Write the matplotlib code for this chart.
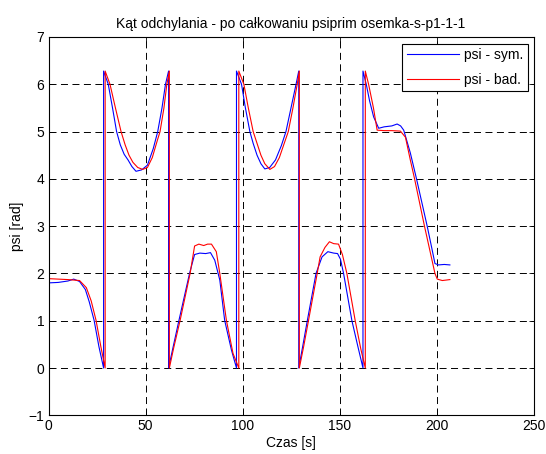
import matplotlib
matplotlib.use("Agg")
import matplotlib.pyplot as plt

plt.rcParams['font.family'] = ['Liberation Sans', 'DejaVu Sans']

# simulated heading (wrapped to [0, 2*pi])
t_sym = [0, 5, 10, 13, 16, 19, 21, 23.5, 26, 28.4,
         28.4, 30.8, 33, 35.1, 37, 39, 41, 43, 45.1, 48, 51, 54, 56.3, 58.5, 60.3, 61.9,
         61.9, 64, 67.2, 72.7, 75.3, 78, 81, 83.5, 85.7, 88.3, 90.8, 94.3, 96.9,
         96.9, 99.5, 101.5, 103.8, 105.5, 107.5, 109.5, 111.5, 114, 117, 120, 122.4, 125, 127.6, 129.0,
         129.0, 131, 133.4, 137.9, 141, 144, 147, 149, 150.5, 152.1, 156.4, 159.5, 162.1,
         162.1, 163.8, 165.5, 167.6, 170.2, 173, 177, 179.7, 181.5, 183.1, 186.5, 189.7,
         195.2, 197.5, 199.2, 201, 204, 206.9]
psi_sym = [1.80, 1.81, 1.84, 1.88, 1.83, 1.66, 1.40, 1.01, 0.45, 0.0,
           6.28, 6.0, 5.5, 5.0, 4.72, 4.52, 4.40, 4.26, 4.16, 4.19, 4.29, 4.64, 5.0, 5.5, 6.0, 6.28,
           0.0, 0.4, 1.0, 2.0, 2.40, 2.43, 2.42, 2.44, 2.28, 1.86, 1.01, 0.38, 0.0,
           6.28, 6.0, 5.5, 5.0, 4.75, 4.5, 4.32, 4.21, 4.24, 4.4, 4.7, 5.0, 5.5, 6.0, 6.28,
           0.0, 0.45, 1.0, 2.0, 2.35, 2.46, 2.43, 2.42, 2.3, 2.0, 1.0, 0.45, 0.0,
           6.28, 6.0, 5.65, 5.31, 5.07, 5.10, 5.12, 5.16, 5.12, 5.03, 4.55, 4.0,
           3.0, 2.55, 2.21, 2.18, 2.19, 2.18]

# measured heading
t_bad = [0, 5, 10, 13, 16, 19.5, 22, 24.5, 27, 29.2,
         29.2, 31.7, 34.5, 37.4, 39.5, 41.5, 43.5, 46, 48.6, 51, 53.5, 56, 57.5, 59.5, 61.0, 62.3,
         62.3, 64.5, 67.8, 73, 75.3, 77.5, 80, 82, 84, 86.5, 88.3, 91.7, 95.1, 98.1,
         98.1, 100.7, 103, 105.5, 107.5, 109.5, 111.5, 114.1, 116.5, 119, 121.5, 123.6, 126, 128.2, 129.3,
         129.3, 131.5, 134, 138.5, 140, 142.5, 144.8, 147, 149.5, 151.5, 153.8, 158.1, 161, 163.3,
         163.3, 165, 167.5, 169.4, 173, 177, 181.4, 184, 186.5, 188.7,
         193.8, 196.5, 199.2, 200.4, 203, 205, 206.9]
psi_bad = [1.89, 1.88, 1.87, 1.86, 1.85, 1.70, 1.42, 1.01, 0.45, 0.0,
           6.28, 6.0, 5.5, 5.0, 4.72, 4.5, 4.35, 4.24, 4.2, 4.24, 4.45, 4.8, 5.0, 5.5, 6.0, 6.28,
           0.0, 0.42, 1.0, 2.0, 2.58, 2.62, 2.59, 2.62, 2.62, 2.46, 2.0, 1.01, 0.31, 0.0,
           6.28, 6.0, 5.5, 5.0, 4.75, 4.5, 4.32, 4.2, 4.26, 4.45, 4.75, 5.0, 5.5, 6.0, 6.28,
           0.0, 0.45, 1.0, 2.0, 2.35, 2.55, 2.67, 2.63, 2.62, 2.4, 2.0, 1.0, 0.4, 0.0,
           6.28, 6.0, 5.5, 5.03, 5.02, 5.02, 5.01, 4.88, 4.4, 4.0,
           3.0, 2.5, 2.0, 1.88, 1.85, 1.86, 1.87]

x_ticks = [0, 50, 100, 150, 200, 250]
y_ticks = [-1, 0, 1, 2, 3, 4, 5, 6, 7]

fig = plt.figure(figsize=(5.46, 4.54), dpi=100)
ax = fig.add_axes([48.5 / 546, (454 - 415.3) / 454, 485 / 546, 378.3 / 454])

ax.plot(t_sym, psi_sym, color=(0, 0, 1), lw=0.8, label='psi - sym.')
ax.plot(t_bad, psi_bad, color=(1, 0, 0), lw=0.8, label='psi - bad.')

ax.set_xlim(0, 250)
ax.set_ylim(-1, 7)
ax.set_xticks(x_ticks)
ax.set_yticks(y_ticks)
ax.grid(True, color='black', linestyle=(0, (7.2, 4.6)), linewidth=0.7)
ax.tick_params(direction='in', top=True, right=True, length=3.6, width=0.6,
               labelsize=10, pad=3)
for s in ax.spines.values():
    s.set_linewidth(0.8)

ax.set_title('Kąt odchylania - po całkowaniu psiprim osemka-s-p1-1-1', fontsize=10, pad=6.5)
ax.set_xlabel('Czas [s]', fontsize=10, labelpad=2)
ax.set_ylabel('psi [rad]', fontsize=10, labelpad=3)

leg = ax.legend(loc='upper right', bbox_to_anchor=(527.7 / 546, (454 - 44) / 454),
                bbox_transform=fig.transFigure, borderaxespad=0, fontsize=10,
                handlelength=3.8, handletextpad=0.35, labelspacing=0.8, borderpad=0.3,
                fancybox=False, framealpha=1, edgecolor='black')
leg.get_frame().set_linewidth(0.8)

fig.savefig('out.png', dpi=100)
